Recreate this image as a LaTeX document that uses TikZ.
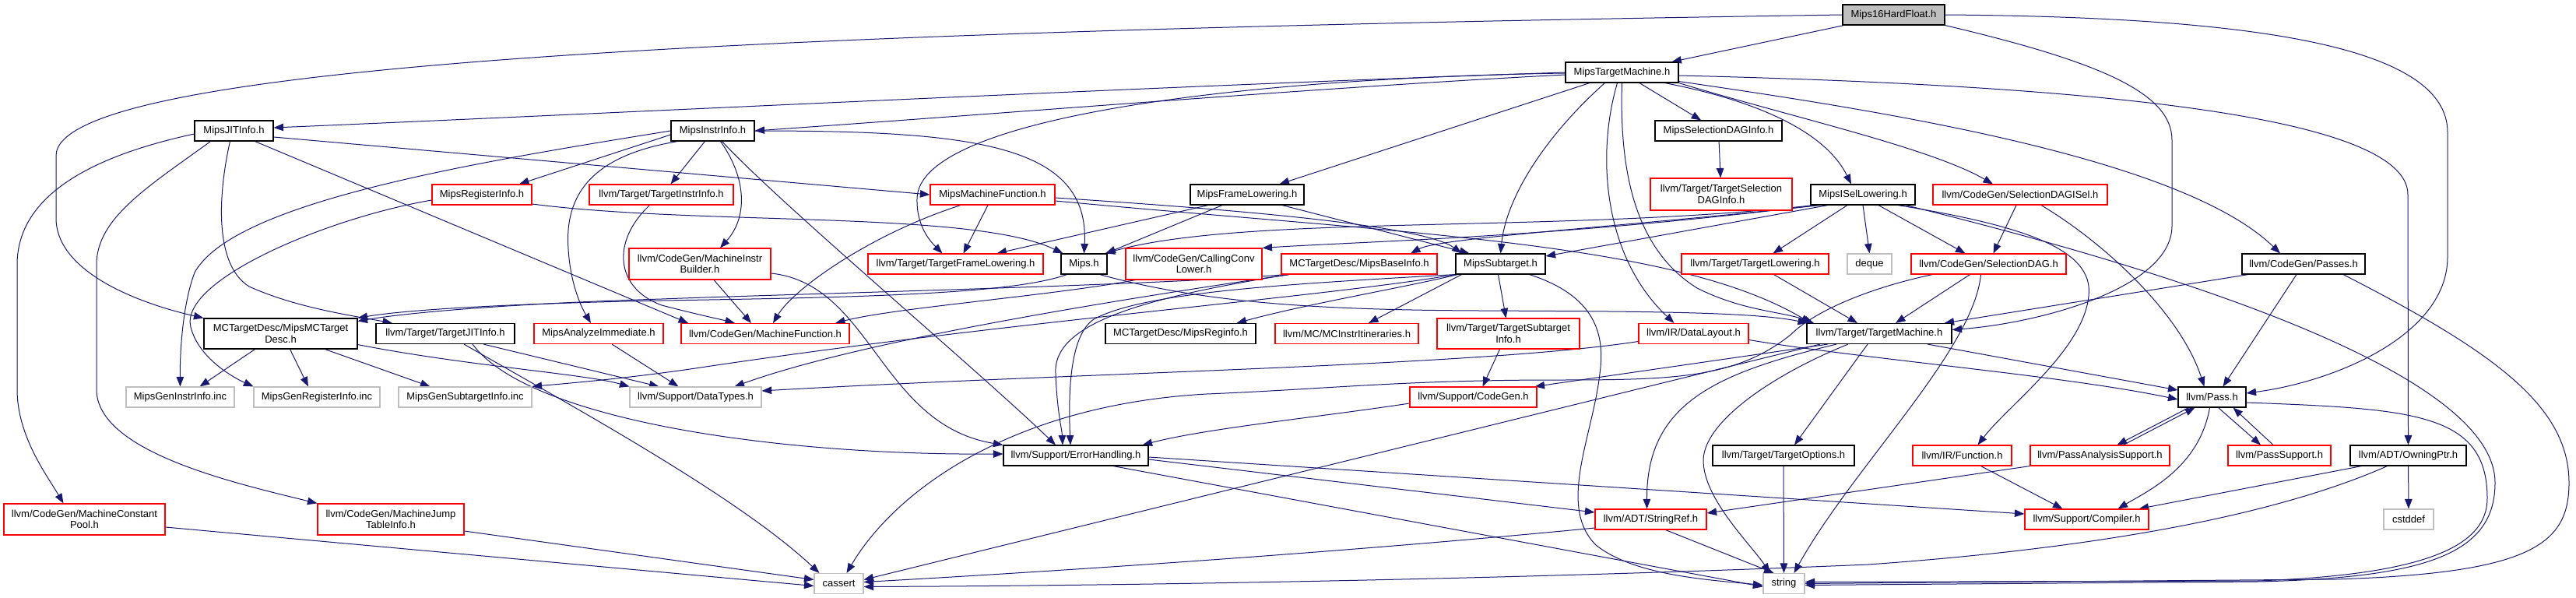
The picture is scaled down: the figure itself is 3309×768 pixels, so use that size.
\documentclass[tikz,border=0pt]{standalone}
\usepackage{fontspec}
\setmainfont{Liberation Sans}
\usetikzlibrary{arrows.meta}
\pgfdeclarelayer{bglayer}
\pgfdeclarelayer{edgelayer}
\pgfsetlayers{bglayer,edgelayer,main}
\definecolor{edgec}{HTML}{191970}
\definecolor{grey75}{HTML}{BFBFBF}
\definecolor{dxred}{HTML}{FF0000}
\newcommand\dxf{\fontsize{13}{14.5}\selectfont}
\tikzset{
  nb/.style={draw=black, fill=white, line width=1.1pt, inner sep=0pt, minimum height=26pt, font=\dxf, align=center},
  nr/.style={nb, draw=dxred},
  ng/.style={nb, draw=grey75},
  e/.style={draw=edgec, line width=1.0pt, -{Triangle[length=12.5pt,width=9.5pt]}},
}
\begin{document}
\begin{tikzpicture}[x=1pt,y=-1pt]
\begin{pgfonlayer}{bglayer}
\fill[white] (0,0) rectangle (3309,768);
\end{pgfonlayer}
\useasboundingbox (0,0) rectangle (3309,768);

% ---------- nodes ----------
\node[nb, fill=grey75, minimum width=131pt] (n16) at (2432.5,19) {Mips16HardFloat.h};
\node[nb, minimum width=145pt] (ntm) at (2083.5,93) {MipsTargetMachine.h};
\node[nb, minimum width=101pt] (njit) at (300.5,168) {MipsJITInfo.h};
\node[nb, minimum width=107pt] (nii) at (915.5,168) {MipsInstrInfo.h};
\node[nb, minimum width=163pt] (nsdi) at (2207.5,168) {MipsSelectionDAGInfo.h};
\node[nr, minimum width=128pt] (nri) at (619,250) {MipsRegisterInfo.h};
\node[nr, minimum width=185pt] (ntii) at (849.5,250) {llvm/Target/TargetInstrInfo.h};
\node[nr, minimum width=160pt] (nmmf) at (1275,250) {MipsMachineFunction.h};
\node[nb, minimum width=146pt] (nfl) at (1602,250) {MipsFrameLowering.h};
\node[nr, minimum width=182pt, minimum height=41pt] (ntsdi) at (2211,249.5) {llvm/Target/TargetSelection\\DAGInfo.h};
\node[nb, minimum width=134pt] (nisl) at (2393,250) {MipsISelLowering.h};
\node[nr, minimum width=224pt] (nsdisel) at (2595,250) {llvm/CodeGen/SelectionDAGISel.h};
\node[nr, minimum width=182pt, minimum height=40pt] (nmib) at (899,339) {llvm/CodeGen/MachineInstr\\Builder.h};
\node[nr, minimum width=225pt] (ntfl) at (1227.5,339) {llvm/Target/TargetFrameLowering.h};
\node[nb, minimum width=59pt] (nmips) at (1392.5,339) {Mips.h};
\node[nr, minimum width=175pt, minimum height=40pt] (nccl) at (1533.5,339) {llvm/CodeGen/CallingConv\\Lower.h};
\node[nr, minimum width=200pt] (nbi) at (1746,339) {MCTargetDesc/MipsBaseInfo.h};
\node[nb, minimum width=115pt] (nst) at (1927.5,339) {MipsSubtarget.h};
\node[nr, minimum width=189pt] (ntl) at (2254.5,339) {llvm/Target/TargetLowering.h};
\node[ng, minimum width=57pt] (ndeque) at (2401.5,339) {deque};
\node[nr, minimum width=199pt] (nsd) at (2554.5,339) {llvm/CodeGen/SelectionDAG.h};
\node[nb, minimum width=158pt] (npasses) at (2959,339) {llvm/CodeGen/Passes.h};
\node[nb, minimum width=197pt, minimum height=39pt] (nmctd) at (360.5,428.5) {MCTargetDesc/MipsMCTarget\\Desc.h};
\node[nb, minimum width=178pt] (ntji) at (572,428.5) {llvm/Target/TargetJITInfo.h};
\node[nr, minimum width=166pt] (nai) at (769,428.5) {MipsAnalyzeImmediate.h};
\node[nr, minimum width=216pt] (nmf) at (983,428.5) {llvm/CodeGen/MachineFunction.h};
\node[nb, minimum width=193pt] (nrgi) at (1516.5,428.5) {MCTargetDesc/MipsReginfo.h};
\node[nr, minimum width=184pt] (nmcii) at (1730,428.5) {llvm/MC/MCInstrItineraries.h};
\node[nr, minimum width=183pt, minimum height=39pt] (ntsi) at (1937.5,428.5) {llvm/Target/TargetSubtarget\\Info.h};
\node[nr, minimum width=141pt] (ndl) at (2175.5,428.5) {llvm/IR/DataLayout.h};
\node[nb, minimum width=186pt] (ntmach) at (2414,428.5) {llvm/Target/TargetMachine.h};
\node[ng, minimum width=139pt] (ngii) at (231.5,510) {MipsGenInstrInfo.inc};
\node[ng, minimum width=162pt] (ngri) at (407,510) {MipsGenRegisterInfo.inc};
\node[ng, minimum width=171pt] (ngsi) at (597.5,510) {MipsGenSubtargetInfo.inc};
\node[ng, minimum width=169pt] (ndt) at (893.5,510) {llvm/Support/DataTypes.h};
\node[nr, minimum width=163pt] (ncg) at (1892.5,510) {llvm/Support/CodeGen.h};
\node[nb, minimum width=87pt] (npass) at (2841.5,510) {llvm/Pass.h};
\node[nb, minimum width=186pt] (neh) at (1382,585) {llvm/Support/ErrorHandling.h};
\node[nb, minimum width=182pt] (nto) at (2291,585) {llvm/Target/TargetOptions.h};
\node[nr, minimum width=127pt] (nfunc) at (2520.5,585) {llvm/IR/Function.h};
\node[nr, minimum width=179pt] (npas) at (2697.5,585) {llvm/PassAnalysisSupport.h};
\node[nr, minimum width=132pt] (npsup) at (2928,585) {llvm/PassSupport.h};
\node[nb, minimum width=149pt] (nop) at (3093.5,585) {llvm/ADT/OwningPtr.h};
\node[nr, minimum width=207pt, minimum height=40pt] (nmcp) at (108.5,667) {llvm/CodeGen/MachineConstant\\Pool.h};
\node[nr, minimum width=188pt, minimum height=40pt] (nmjt) at (502,667) {llvm/CodeGen/MachineJump\\TableInfo.h};
\node[nr, minimum width=143pt] (nsr) at (2120.5,667) {llvm/ADT/StringRef.h};
\node[nr, minimum width=159pt] (ncomp) at (2680.5,667) {llvm/Support/Compiler.h};
\node[ng, minimum width=64pt] (ncstddef) at (3094,667) {cstddef};
\node[ng, minimum width=63pt] (ncassert) at (1077.5,749.5) {cassert};
\node[ng, minimum width=53pt] (nstring) at (2291.5,749.5) {string};

% ---------- edges ----------
\begin{pgfonlayer}{edgelayer}
% Mips16HardFloat.h
\draw[e] (n16) -- (ntm);
\draw[e] (n16.west) .. controls (1000,40) and (72,80) .. (72,200) -- (72,280) .. controls (72,350) and (180,390) .. (nmctd.north west);
\draw[e] (n16.south east) .. controls (2700,80) and (2790,120) .. (2790,180) -- (2790,290) .. controls (2790,370) and (2620,415) .. ([yshift=5pt]ntmach.east);
\draw[e] (n16.east) .. controls (2900,22) and (3144,60) .. (3144,170) -- (3144,330) .. controls (3144,430) and (3000,490) .. ([yshift=5pt]npass.east);
% MipsTargetMachine.h
\draw[e] (ntm.west) .. controls (1500,110) and (800,145) .. ([yshift=4pt]njit.east);
\draw[e] ([yshift=-3pt]ntm.west) .. controls (1700,112) and (1300,145) .. (nii.east);
\draw[e] ([yshift=-1pt]ntm.west) .. controls (1600,100) and (1180,150) .. (1178,255) .. controls (1177,290) and (1195,310) .. ([xshift=-17pt]ntfl.north);
\draw[e] (ntm) -- (nfl);
\draw[e] ([xshift=-22pt]ntm.south) .. controls (1990,170) and (1935,250) .. (nst.north);
\draw[e] ([xshift=-6pt]ntm.south) .. controls (2050,200) and (2060,330) .. ([xshift=-25pt]ndl.north);
\draw[e] (ntm.south) .. controls (2080,220) and (2100,320) .. (2180,370) .. controls (2240,400) and (2290,400) .. ([xshift=-84pt]ntmach.north);
\draw[e] (ntm) -- (nsdi);
\draw[e] ([xshift=55pt]ntm.south) .. controls (2260,130) and (2345,170) .. ([xshift=-15pt]nisl.north);
\draw[e] (ntm.south east) .. controls (2300,150) and (2480,190) .. ([xshift=-35pt]nsdisel.north);
\draw[e] ([yshift=2pt]ntm.south east) .. controls (2400,140) and (2800,200) .. ([xshift=-30pt]npasses.north);
\draw[e] ([yshift=-4pt]ntm.east) .. controls (2700,110) and (3093,150) .. (3093,250) -- (nop.north);
% MipsJITInfo.h
\draw[e] ([yshift=-4pt]njit.west) .. controls (120,200) and (22,250) .. (22,340) -- (22,500) .. controls (22,560) and (60,610) .. ([xshift=-27pt]nmcp.north);
\draw[e] ([xshift=-30pt]njit.south) .. controls (190,240) and (124,280) .. (124,340) -- (124,500) .. controls (124,580) and (300,620) .. (nmjt.north west);
\draw[e] ([xshift=-5pt]njit.south) .. controls (280,250) and (275,340) .. (320,368) .. controls (380,395) and (450,405) .. ([xshift=-68pt]ntji.north);
\draw[e] ([xshift=27pt]njit.south) -- ([xshift=-99pt]nmf.north);
\draw[e] ([yshift=-8pt]njit.east) -- (nmmf.west);
% MipsInstrInfo.h
\draw[e] ([yshift=-5pt]nii.west) -- ([xshift=48pt]nri.north);
\draw[e] (nii.west) .. controls (600,210) and (300,260) .. (250,350) .. controls (235,390) and (231,450) .. (ngii.north);
\draw[e] ([xshift=-45pt]nii.south) .. controls (760,200) and (725,250) .. (730,320) .. controls (733,370) and (750,400) .. ([xshift=-10pt]nai.north);
\draw[e] ([xshift=-10pt]nii.south) -- ([xshift=12pt]ntii.north);
\draw[e] ([xshift=10pt]nii.south) .. controls (960,230) and (960,280) .. ([xshift=26pt]nmib.north);
\draw[e] ([xshift=12pt]nii.south) .. controls (1000,260) and (1250,470) .. ([xshift=-26pt]neh.north);
\draw[e] (nii.east) .. controls (1250,168) and (1400,185) .. (nmips.north);
% MipsRegisterInfo.h
\draw[e] ([yshift=-7pt]nri.west) .. controls (420,280) and (230,360) .. (245,420) .. controls (255,460) and (300,485) .. (ngri.north west);
\draw[e] ([yshift=-12pt]nri.east) .. controls (900,290) and (1250,270) .. ([xshift=3pt]nmips.north west);
% TargetInstrInfo, MachineInstrBuilder, MipsMachineFunction
\draw[e] ([xshift=-15pt]ntii.south) .. controls (785,310) and (790,370) .. (850,392) .. controls (900,405) and (925,410) .. ([xshift=-39pt]nmf.north);
\draw[e] ([xshift=18pt]nmib.south) -- ([xshift=-18pt]nmf.north);
\draw[e] ([yshift=-12pt]nmib.east) .. controls (1120,365) and (1130,545) .. (neh.north west);
\draw[e] ([xshift=-41pt]nmmf.south) .. controls (1120,300) and (1020,370) .. ([xshift=10pt]nmf.north);
\draw[e] ([xshift=-6pt]nmmf.south) -- ([xshift=10pt]ntfl.north);
\draw[e] ([yshift=-4pt]nmmf.east) .. controls (1600,270) and (1830,290) .. ([xshift=-50pt]nst.north);
\draw[e] ([yshift=-8pt]nmmf.east) .. controls (1800,300) and (2150,310) .. ([xshift=-88pt]ntmach.north);
% MipsFrameLowering.h
\draw[e] ([xshift=-50pt]nfl.south) -- ([xshift=53pt]ntfl.north);
\draw[e] ([xshift=-32pt]nfl.south) -- ([xshift=28pt]nmips.north);
\draw[e] ([xshift=45pt]nfl.south) -- ([xshift=-40pt]nst.north);
% MipsSelectionDAGInfo.h
\draw[e] (nsdi) -- (ntsdi);
% MipsISelLowering.h
\draw[e] ([xshift=-63pt]nisl.south) .. controls (2000,300) and (1600,275) .. ([xshift=-3pt]nmips.north east);
\draw[e] ([xshift=-60pt]nisl.south) .. controls (2000,305) and (1750,310) .. (nccl.north east);
\draw[e] ([xshift=-55pt]nisl.south) .. controls (2100,290) and (1850,305) .. ([xshift=66pt]nbi.north);
\draw[e] ([xshift=-45pt]nisl.south) -- ([yshift=10pt]nst.east);
\draw[e] ([xshift=-20pt]nisl.south) -- ([xshift=23pt]ntl.north);
\draw[e] (nisl.south) -- (ndeque.north);
\draw[e] ([xshift=20pt]nisl.south) -- ([xshift=-30pt]nsd.north);
\draw[e] ([xshift=45pt]nisl.south) .. controls (2600,290) and (2690,320) .. (2683,380) .. controls (2676,450) and (2580,520) .. ([xshift=20pt]nfunc.north);
\draw[e] ([xshift=55pt]nisl.south) .. controls (2800,350) and (3205,480) .. (3205,620) .. controls (3205,710) and (3120,742) .. (2900,747) -- ([yshift=-2pt]nstring.east);
% SelectionDAGISel.h
\draw[e] ([xshift=-5pt]nsdisel.south) -- ([xshift=6pt]nsd.north);
\draw[e] ([xshift=27pt]nsdisel.south) .. controls (2700,310) and (2800,400) .. ([xshift=-10pt]npass.north);
% SelectionDAG.h
\draw[e] ([xshift=-72pt]nsd.south) .. controls (2400,370) and (2330,400) .. (2300,430) .. controls (2230,486) and (2150,488) .. (2000,488) .. controls (1800,488) and (1700,500) .. (1550,506) .. controls (1300,520) and (1150,630) .. ([xshift=10pt]ncassert.north);
\draw[e] ([xshift=-24pt]nsd.south) -- ([xshift=21pt]ntmach.north);
\draw[e] ([xshift=-10pt]nsd.south) .. controls (2535,450) and (2380,600) .. ([xshift=13pt]nstring.north);
% TargetLowering, CallingConvLower
\draw[e] ([xshift=24pt]ntl.south) -- ([xshift=-28pt]ntmach.north);
\draw[e] ([xshift=-75pt]nccl.south) .. controls (1350,380) and (1150,395) .. ([xshift=90pt]nmf.north);
% Mips.h
\draw[e] ([xshift=-22pt]nmips.south) .. controls (1300,378) and (1100,382) .. (850,386) .. controls (650,390) and (520,398) .. (nmctd.north east);
\draw[e] ([xshift=20pt]nmips.south) .. controls (1550,390) and (1700,398) .. (1900,399) .. controls (2100,400) and (2250,400) .. ([xshift=-92pt]ntmach.north);
% MipsBaseInfo.h
\draw[e] ([xshift=-95pt]nbi.south) .. controls (1500,366) and (1000,378) .. (850,384) .. controls (650,390) and (520,402) .. ([yshift=-4pt]nmctd.north east);
\draw[e] ([xshift=-90pt]nbi.south) .. controls (1450,385) and (1352,420) .. (1356,480) .. controls (1358,530) and (1364,550) .. ([xshift=-17pt]neh.north);
\draw[e] ([xshift=-90pt]nbi.south) .. controls (1400,390) and (1100,440) .. ([xshift=50pt]ndt.north);
% MipsSubtarget.h
\draw[e] ([xshift=-50pt]nst.south) -- ([xshift=28pt]nmcii.north);
\draw[e] ([xshift=-55pt]nst.south) .. controls (1800,370) and (1680,390) .. ([xshift=72pt]nrgi.north);
\draw[e] ([xshift=-3pt]nst.south) -- ([xshift=-3pt]ntsi.north);
\draw[e] ([xshift=37pt]nst.south) .. controls (2050,380) and (2062,430) .. (2055,480) .. controls (2046,560) and (2000,650) .. (2050,700) .. controls (2100,740) and (2200,745) .. ([yshift=-2pt]nstring.west);
\draw[e] (nst.south west) .. controls (1700,382) and (1300,412) .. (900,472) .. controls (800,487) and (720,493) .. (ngsi.north east);
\draw[e] (nst.south west) .. controls (1650,365) and (1470,375) .. (1405,410) .. controls (1375,430) and (1372,500) .. ([xshift=-7pt]neh.north);
% MipsMCTargetDesc.h
\draw[e] ([xshift=-33pt]nmctd.south) -- ([xshift=25pt]ngii.north);
\draw[e] ([xshift=12pt]nmctd.south) -- ([xshift=-11pt]ngri.north);
\draw[e] ([xshift=57pt]nmctd.south) -- ([xshift=-45pt]ngsi.north);
\draw[e] ([yshift=6pt]nmctd.south east) .. controls (600,470) and (750,480) .. (ndt.north west);
% TargetJITInfo.h
\draw[e] ([xshift=49pt]ntji.south) -- ([xshift=-47pt]ndt.north);
\draw[e] ([xshift=35pt]ntji.south) .. controls (680,540) and (1000,585) .. ([yshift=2pt]neh.west);
\draw[e] ([xshift=24pt]ntji.south) .. controls (750,530) and (950,640) .. ([xshift=-25pt]ncassert.north);
% MipsAnalyzeImmediate, TargetSubtargetInfo, DataLayout
\draw[e] ([xshift=17pt]nai.south) -- ([xshift=-22pt]ndt.north);
\draw[e] ([xshift=-11pt]ntsi.south) -- ([xshift=12pt]ncg.north);
\draw[e] ([yshift=-10pt]ndl.west) .. controls (1900,470) and (1400,478) .. ([yshift=8pt]ndt.east);
\draw[e] ([yshift=-8pt]ndl.east) .. controls (2400,462) and (2650,482) .. ([yshift=-3pt]npass.west);
% TargetMachine.h
\draw[e] ([xshift=-66pt]ntmach.south) -- ([xshift=-3pt]ncg.north east);
\draw[e] ([xshift=-76pt]ntmach.south) -- ([yshift=5pt]ncassert.east);
\draw[e] ([xshift=-55pt]ntmach.south) .. controls (2200,480) and (2115,520) .. ([xshift=-5pt]nsr.north);
\draw[e] ([xshift=-40pt]ntmach.south) .. controls (2280,480) and (2190,540) .. (2188,590) .. controls (2187,640) and (2250,700) .. ([xshift=-18pt]nstring.north);
\draw[e] ([xshift=-15pt]ntmach.south) -- ([xshift=14pt]nto.north);
\draw[e] ([xshift=62pt]ntmach.south) -- ([yshift=9pt]npass.west);
% CodeGen.h, ErrorHandling.h
\draw[e] ([yshift=-8pt]ncg.west) .. controls (1700,535) and (1550,550) .. ([xshift=-8pt]neh.north east);
\draw[e] ([yshift=-5pt]neh.east) -- ([yshift=9pt]nsr.west);
\draw[e] ([yshift=-2pt]neh.east) -- ([yshift=7pt]ncomp.west);
\draw[e] ([xshift=48pt]neh.south) -- ([yshift=-4pt]nstring.west);
% bottom left
\draw[e] ([yshift=-10pt]nmcp.east) -- ([yshift=-3pt]ncassert.west);
\draw[e] ([yshift=-15pt]nmjt.east) -- ([yshift=5pt]ncassert.west);
% TargetOptions, Function, StringRef
\draw[e] (nto) -- (nstring);
\draw[e] ([xshift=24pt]nfunc.south) -- ([xshift=-31pt]ncomp.north);
\draw[e] ([yshift=-11pt]nsr.west) .. controls (1700,712) and (1300,737) .. ([yshift=2pt]ncassert.east);
\draw[e] ([xshift=19pt]nsr.south) -- ([xshift=-13pt]nstring.north);
% Pass.h and friends
\draw[e] ([xshift=-30pt]npass.south) -- ([xshift=22pt]npas.north);
\draw[e] ([xshift=30pt]npas.north) -- ([xshift=-22pt]npass.south);
\draw[e] ([xshift=8pt]npass.south) -- ([xshift=-24pt]npsup.north);
\draw[e] ([xshift=-8pt]npsup.north) -- ([xshift=27pt]npass.south);
\draw[e] ([xshift=-3pt]npass.south) .. controls (2825,600) and (2760,630) .. ([xshift=40pt]ncomp.north);
\draw[e] ([yshift=-7pt]npass.east) .. controls (3100,525) and (3195,530) .. (3195,640) .. controls (3195,700) and (3120,738) .. (2900,746) -- ([yshift=2pt]nstring.east);
\draw[e] (npas.south west) -- ([yshift=8pt]nsr.east);
% Passes.h
\draw[e] ([xshift=-71pt]npasses.south) -- ([xshift=-10pt]ntmach.north east);
\draw[e] ([xshift=-9pt]npasses.south) -- ([xshift=14pt]npass.north);
\draw[e] ([xshift=51pt]npasses.south) .. controls (3200,450) and (3300,520) .. (3300,620) .. controls (3300,700) and (3250,736) .. (3000,744) -- (nstring.east);
% OwningPtr.h
\draw[e] ([xshift=-60pt]nop.south) -- ([xshift=-13pt]ncomp.north east);
\draw[e] ([xshift=-27pt]nop.south) .. controls (2950,650) and (2750,700) .. (2400,725) .. controls (2000,742) and (1500,752) .. ([yshift=-4pt]ncassert.east);
\draw[e] (nop) -- (ncstddef);
\end{pgfonlayer}
\end{tikzpicture}
\end{document}
